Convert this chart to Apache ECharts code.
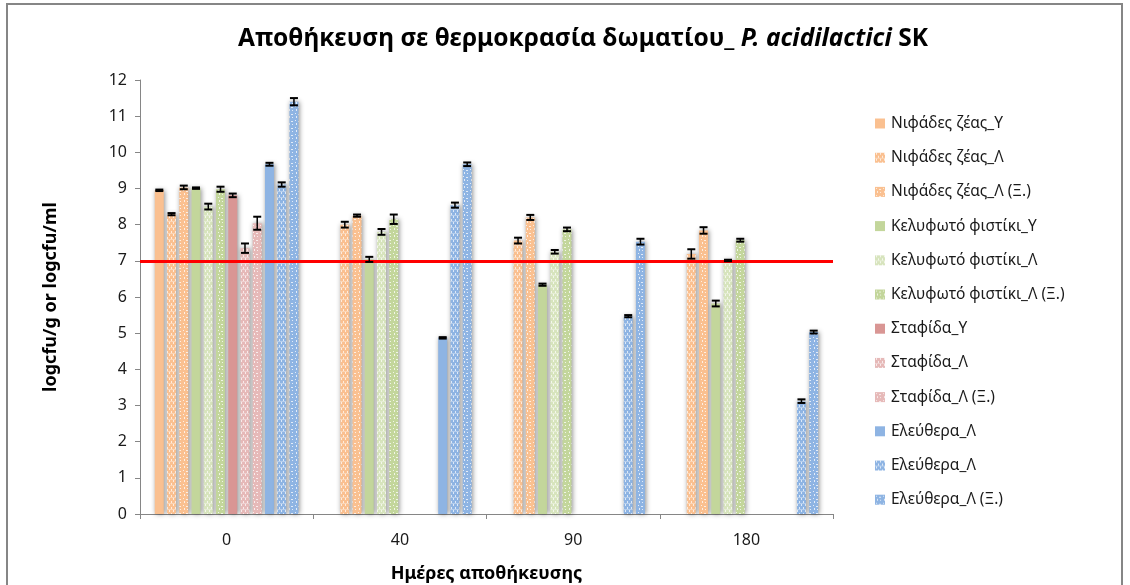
<!DOCTYPE html>
<html>
<head>
<meta charset="utf-8">
<script src="https://cdn.jsdelivr.net/npm/echarts@6/dist/echarts.min.js"></script>
<style>
  html, body { margin: 0; padding: 0; background: #fff; }
  #chart { width: 1130px; height: 585px; }
</style>
</head>
<body>
<div id="chart"></div>
<script>
// Storage days on the x axis
const days = ['0', '40', '90', '180'];

// Y axis ticks (log cfu)
const yTicks = [0, 1, 2, 3, 4, 5, 6, 7, 8, 9, 10, 11, 12];

// Limit line (log cfu)
const limitValue = 7;

// Legend labels, one per series
const seriesLabels = [
  'Νιφάδες ζέας_Υ',
  'Νιφάδες ζέας_Λ',
  'Νιφάδες ζέας_Λ (Ξ.)',
  'Κελυφωτό φιστίκι_Υ',
  'Κελυφωτό φιστίκι_Λ',
  'Κελυφωτό φιστίκι_Λ (Ξ.)',
  'Σταφίδα_Υ',
  'Σταφίδα_Λ',
  'Σταφίδα_Λ (Ξ.)',
  'Ελεύθερα_Λ',
  'Ελεύθερα_Λ',
  'Ελεύθερα_Λ (Ξ.)'
];

// Mean counts per series at 0, 40, 90, 180 days (null = not measured)
const niphYValues   = [8.95, null, null, null];
const niphLValues   = [8.29, 8.00, 7.56, 7.19];
const niphLXValues  = [9.03, 8.25, 8.20, 7.84];
const kelYValues    = [9.01, 7.04, 6.34, 5.82];
const kelLValues    = [8.50, 7.80, 7.25, 7.01];
const kelLXValues   = [8.98, 8.15, 7.87, 7.57];
const stafYValues   = [8.81, null, null, null];
const stafLValues   = [7.35, null, null, null];
const stafLXValues  = [8.04, null, null, null];
const eleu1Values   = [9.67, 4.87, null, null];
const eleu2Values   = [9.11, 8.54, 5.47, 3.12];
const eleuLXValues  = [11.40, 9.67, 7.53, 5.03];

// Standard deviations for the error bars
const niphYErr  = [0.02, null, null, null];
const niphLErr  = [0.03, 0.08, 0.08, 0.13];
const niphLXErr = [0.05, 0.03, 0.07, 0.09];
const kelYErr   = [0.02, 0.07, 0.03, 0.08];
const kelLErr   = [0.08, 0.08, 0.05, 0.02];
const kelLXErr  = [0.07, 0.13, 0.05, 0.04];
const stafYErr  = [0.05, null, null, null];
const stafLErr  = [0.13, null, null, null];
const stafLXErr = [0.18, null, null, null];
const eleu1Err  = [0.04, 0.02, null, null];
const eleu2Err  = [0.06, 0.07, 0.03, 0.05];
const eleuLXErr = [0.10, 0.05, 0.08, 0.04];

const allValues = [niphYValues, niphLValues, niphLXValues, kelYValues, kelLValues, kelLXValues,
                   stafYValues, stafLValues, stafLXValues, eleu1Values, eleu2Values, eleuLXValues];
const allErrors = [niphYErr, niphLErr, niphLXErr, kelYErr, kelLErr, kelLXErr,
                   stafYErr, stafLErr, stafLXErr, eleu1Err, eleu2Err, eleuLXErr];

// Fill styles: base colour plus the overlay pattern kind
const ORANGE = '#FAC090', GREEN = '#C3D69B', LGREEN = '#D7E4BD',
      RED = '#D99694', PINK = '#E6B9B8', BLUE = '#8EB4E3';
const fills = [
  [ORANGE, 'solid'], [ORANGE, 'dash'], [ORANGE, 'dots'],
  [GREEN, 'solid'], [LGREEN, 'dash'], [GREEN, 'dots'],
  [RED, 'solid'], [PINK, 'dash'], [PINK, 'dots'],
  [BLUE, 'solid'], [BLUE, 'dash'], [BLUE, 'dots']
];

function makePattern(base, kind) {
  if (kind === 'solid') return base;
  const c = document.createElement('canvas');
  const ctx = c.getContext('2d');
  if (kind === 'dash') {
    c.width = 4; c.height = 6;
    ctx.fillStyle = base; ctx.fillRect(0, 0, 4, 6);
    ctx.fillStyle = 'rgba(255,255,255,0.7)';
    ctx.fillRect(1, 0, 1, 2);
    ctx.fillRect(3, 3, 1, 2);
    ctx.fillStyle = 'rgba(255,255,255,0.35)';
    ctx.fillRect(0, 5, 4, 1);
  } else {
    c.width = 7; c.height = 7;
    ctx.fillStyle = base; ctx.fillRect(0, 0, 7, 7);
    ctx.fillStyle = 'rgba(255,255,255,0.75)';
    ctx.fillRect(1, 1, 1, 1);
    ctx.fillRect(4, 2, 2, 1);
    ctx.fillRect(2, 4, 1, 2);
    ctx.fillRect(5, 5, 1, 1);
  }
  return { image: c, repeat: 'repeat' };
}

// Internal series names must be unique; the legend shows the trimmed label
const seriesNames = seriesLabels.map((s, i) => seriesLabels.indexOf(s) === i ? s : s + ' ');

const BAR_W = 9;
const BAR_GAP = 0.36;
const PITCH = BAR_W * (1 + BAR_GAP);
const N = seriesNames.length;

const barSeries = seriesNames.map((name, i) => ({
  name: name,
  type: 'bar',
  barWidth: BAR_W,
  barGap: (BAR_GAP * 100) + '%',
  data: allValues[i],
  itemStyle: {
    color: makePattern(fills[i][0], fills[i][1]),
    shadowColor: 'rgba(0,0,0,0.45)',
    shadowBlur: 5,
    shadowOffsetX: 1
  },
  emphasis: { disabled: true },
  z: 2
}));

barSeries[0].markLine = {
  silent: true,
  symbol: 'none',
  label: { show: false },
  lineStyle: { color: '#FF0000', width: 3, type: 'solid' },
  data: [{ yAxis: limitValue }],
  z: 5
};

// Error bar records: [day index, mean, sd, series index]
const errData = [];
allValues.forEach((vals, s) => {
  vals.forEach((v, d) => {
    if (v != null && allErrors[s][d] != null) errData.push([d, v, allErrors[s][d], s]);
  });
});

const errorSeries = {
  type: 'custom',
  name: 'err',
  data: errData,
  encode: { x: 0, y: 1 },
  z: 10,
  silent: true,
  renderItem: function (params, api) {
    const d = api.value(0), v = api.value(1), e = api.value(2), s = api.value(3);
    const c = api.coord([d, v]);
    const x = c[0] + (s - (N - 1) / 2) * PITCH;
    const top = api.coord([d, v + e])[1];
    const bot = api.coord([d, v - e])[1];
    const hw = 4;
    const st = { stroke: '#000', lineWidth: 2 };
    return {
      type: 'group',
      children: [
        { type: 'line', shape: { x1: x, y1: top, x2: x, y2: bot }, style: { stroke: '#000', lineWidth: 1.5 } },
        { type: 'line', shape: { x1: x - hw, y1: top, x2: x + hw, y2: top }, style: st },
        { type: 'line', shape: { x1: x - hw, y1: bot, x2: x + hw, y2: bot }, style: st }
      ]
    };
  }
};

const FONT = 'Noto Sans';
const chart = echarts.init(document.getElementById('chart'), null, { renderer: 'canvas' });

chart.setOption({
  backgroundColor: '#ffffff',
  animation: false,
  title: {
    text: '{b|Αποθήκευση σε θερμοκρασία δωματίου_ }{i|P. acidilactici}{b| SK}',
    left: 578,
    top: 22,
    textAlign: 'center',
    textStyle: {
      rich: {
        b: { fontFamily: FONT, fontSize: 24.5, fontWeight: 'bold', color: '#000' },
        i: { fontFamily: FONT, fontSize: 24.5, fontWeight: 'bold', fontStyle: 'italic', color: '#000' }
      }
    }
  },
  legend: {
    orient: 'vertical',
    left: 870,
    top: 110,
    data: seriesNames,
    formatter: n => n.trim(),
    icon: 'rect',
    itemWidth: 10,
    itemHeight: 10,
    itemGap: 17.2,
    selectedMode: false,
    textStyle: { fontFamily: FONT, fontSize: 15.5, color: '#1a1a1a', lineHeight: 17, padding: [0, 0, 0, 1] }
  },
  grid: { left: 140, right: 297, top: 80, bottom: 71, outerBoundsMode: 'none', containLabel: false },
  xAxis: {
    type: 'category',
    data: days,
    name: 'Ημέρες αποθήκευσης',
    nameLocation: 'middle',
    nameGap: 51,
    nameTextStyle: { fontFamily: FONT, fontSize: 18, fontWeight: 'bold', color: '#000' },
    axisLine: { lineStyle: { color: '#868686', width: 1 } },
    axisTick: { show: true, length: 5, lineStyle: { color: '#868686' } },
    axisLabel: { fontFamily: FONT, fontSize: 16, color: '#1a1a1a', margin: 18 }
  },
  yAxis: {
    type: 'value',
    min: yTicks[0],
    max: yTicks[yTicks.length - 1],
    interval: 1,
    name: 'logcfu/g or logcfu/ml',
    nameLocation: 'middle',
    nameGap: 80,
    nameTextStyle: { fontFamily: FONT, fontSize: 18, fontWeight: 'bold', color: '#000' },
    axisLine: { show: true, lineStyle: { color: '#868686', width: 1 } },
    axisTick: { show: true, length: 5, lineStyle: { color: '#868686' } },
    axisLabel: { fontFamily: FONT, fontSize: 16, color: '#1a1a1a', margin: 13 },
    splitLine: { show: false }
  },
  graphic: [{
    type: 'rect',
    shape: { x: 7, y: 4, width: 1115, height: 620 },
    style: { fill: 'none', stroke: '#868686', lineWidth: 2 },
    silent: true,
    z: 0
  }],
  series: barSeries.concat([errorSeries])
});
</script>
</body>
</html>
